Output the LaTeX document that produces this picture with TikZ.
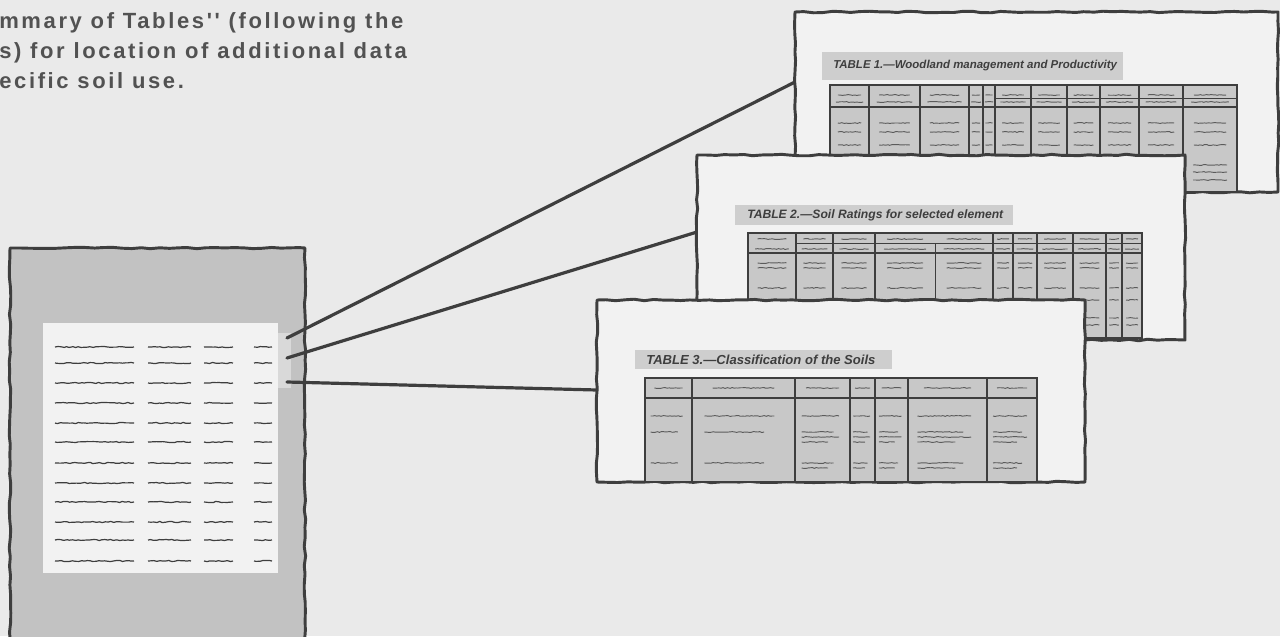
\documentclass[tikz,border=0pt]{standalone}
\usepackage{fontspec}
\setmainfont{Liberation Sans}
\newfontfamily\bodyfont[LetterSpace=12]{Liberation Sans}
\usetikzlibrary{decorations.pathmorphing}
\definecolor{paper}{RGB}{234,234,234}
\definecolor{sheet}{RGB}{242,242,242}
\definecolor{ink}{RGB}{62,62,62}
\definecolor{tgray}{RGB}{200,200,200}
\definecolor{docgray}{RGB}{194,194,194}
\definecolor{textc}{RGB}{82,82,82}
\begin{document}
\pgfmathsetseed{11}
\begin{tikzpicture}[x=0.75pt,y=-0.75pt,
  rough/.style={decorate,decoration={random steps,segment length=7pt,amplitude=0.6pt}},
  sheetline/.style={draw=ink,line width=2.2pt,rough,line join=round},
  link/.style={draw=ink,line width=2.4pt,line cap=round},
  scr/.style={draw=ink,line width=0.9pt,decorate,decoration={random steps,segment length=2.2pt,amplitude=0.45pt}},
  tscr/.style={draw=ink!85,line width=0.7pt,decorate,decoration={random steps,segment length=1.6pt,amplitude=0.35pt}},
  tline/.style={draw=ink,line width=1.1pt},
  band/.style={fill=tgray!85!sheet},
  ttl/.style={font=\fontsize{#1}{10}\selectfont\bfseries\itshape,text=ink,anchor=west,inner sep=0},
  body/.style={font=\bodyfont\fontsize{16.5}{19}\selectfont\bfseries,text=textc,anchor=base west,inner sep=0}
]
\useasboundingbox (0,0) rectangle (1280,636);
\clip (0,0) rectangle (1280,636);
\fill[paper] (0,0) rectangle (1280,636);

% top text
\node[body] (l1) at (-1,28) {mmary of Tables{'}{'} (following the};
\node[body] (l2) at (-1,58) {s) for location of additional data};
\node[body] (l3) at (-1,88) {ecific soil use.};

% left document
\draw[sheetline,fill=docgray] (10,248) -- (305,248) -- (305,660) -- (10,660) -- cycle;
\fill[sheet] (43,323) rectangle (278,573);
\fill[tgray!60!sheet] (278,333) rectangle (291,388);
\foreach \y [count=\i] in {347,363,383,403,423,442,463,483,502,522,540,561}{
  \draw[scr] (55,\y) -- (134,\y);
  \draw[scr] (148,\y) -- (191,\y);
  \draw[scr] (204,\y) -- (233,\y);
  \draw[scr] (254,\y) -- (272,\y);
}

% connector ends
\coordinate (s1) at (287,338);
\coordinate (s2) at (287,358);
\coordinate (s3) at (287,382);
\coordinate (e1) at (795,82);
\coordinate (e2) at (697,232);
\coordinate (e3) at (597,390);
\draw[link] (s1) -- (e1);
\draw[link] (s2) -- (e2);
\draw[link] (s3) -- (e3);

% ---------- document 1 ----------
\draw[sheetline,fill=sheet] (795,12) -- (1278,12) -- (1278,192) -- (795,192) -- cycle;
\fill[band] (822,52) rectangle (1123,80);
\node[ttl=8.6] (t1) at (833,66) {TABLE 1.---Woodland management and Productivity};
\fill[tgray] (830,85) rectangle (1237,192);
\draw[tline] (830,85) rectangle (1237,192);
\draw[tline] (830,107) -- (1237,107);
\draw[tline,line width=0.6pt] (995,98) -- (1237,98);
\foreach \c in {869,920,969,983,995,1031,1067,1100,1139,1183}
  \draw[tline] (\c,85) -- (\c,192);
\foreach \a/\b in {830/869,869/920,920/969,969/983,983/995,995/1031,1031/1067,1067/1100,1100/1139,1139/1183,1183/1237}{
  \foreach \y in {123,132,145}
    \draw[tscr] ({\a+0.2*(\b-\a)},\y) -- ({\b-0.2*(\b-\a)},\y);
  \draw[tscr] ({\a+0.2*(\b-\a)},95) -- ({\b-0.2*(\b-\a)},95);
  \draw[tscr] ({\a+0.15*(\b-\a)},102) -- ({\b-0.15*(\b-\a)},102);
}
\foreach \y in {165,172,180}
  \draw[tscr] (1193,\y) -- (1227,\y);

% ---------- document 2 ----------
\draw[sheetline,fill=sheet] (697,155) -- (1185,155) -- (1185,340) -- (697,340) -- cycle;
\fill[band] (735,205) rectangle (1013,225);
\node[ttl=9.1] (t2) at (747,215) {TABLE 2.---Soil Ratings for selected element};
\fill[tgray] (748,233) rectangle (1142,338);
\draw[tline] (748,233) rectangle (1142,338);
\draw[tline] (748,253) -- (1142,253);
\draw[tline,line width=0.6pt] (796,243) -- (1142,243);
\foreach \c in {796,833,875,993,1013,1037,1073,1106,1122}
  \draw[tline] (\c,233) -- (\c,338);
\foreach \c in {935}
  \draw[tline,line width=0.6pt] (\c,243) -- (\c,338);
\foreach \a/\b in {748/796,796/833,833/875,875/935,935/993,993/1013,1013/1037,1037/1073,1073/1106,1106/1122,1122/1142}{
  \foreach \y in {263,268,288}
    \draw[tscr] ({\a+0.2*(\b-\a)},\y) -- ({\b-0.2*(\b-\a)},\y);
  \draw[tscr] ({\a+0.2*(\b-\a)},239) -- ({\b-0.2*(\b-\a)},239);
  \draw[tscr] ({\a+0.15*(\b-\a)},249) -- ({\b-0.15*(\b-\a)},249);
}
\foreach \a/\b in {1073/1106,1106/1122,1122/1142}
  \foreach \y in {300,318,325}
    \draw[tscr] ({\a+0.2*(\b-\a)},\y) -- ({\b-0.2*(\b-\a)},\y);

% ---------- document 3 ----------
\draw[sheetline,fill=sheet] (597,300) -- (1085,300) -- (1085,482) -- (597,482) -- cycle;
\fill[band] (635,350) rectangle (892,369);
\node[ttl=9.8] (t3) at (646,359.5) {TABLE 3.---Classification of the Soils};
\fill[tgray] (645,378) rectangle (1037,482);
\draw[tline] (645,378) rectangle (1037,482);
\draw[tline] (645,398) -- (1037,398);
\foreach \c in {692,795,850,875,908,987}
  \draw[tline] (\c,378) -- (\c,482);
\foreach \a/\b in {645/692,692/795,795/850,850/875,875/908,908/987,987/1037}{
  \draw[tscr] ({\a+0.2*(\b-\a)},388) -- ({\b-0.2*(\b-\a)},388);
  \draw[tscr] ({\a+0.12*(\b-\a)},416) -- ({\b-0.2*(\b-\a)},416);
  \draw[tscr] ({\a+0.12*(\b-\a)},432) -- ({\b-0.3*(\b-\a)},432);
  \draw[tscr] ({\a+0.12*(\b-\a)},463) -- ({\b-0.3*(\b-\a)},463);
}
\foreach \a/\b in {795/850,850/875,875/908,908/987,987/1037}{
  \draw[tscr] ({\a+0.12*(\b-\a)},437) -- ({\b-0.2*(\b-\a)},437);
  \draw[tscr] ({\a+0.12*(\b-\a)},442) -- ({\b-0.4*(\b-\a)},442);
  \draw[tscr] ({\a+0.12*(\b-\a)},468) -- ({\b-0.4*(\b-\a)},468);
}
\end{tikzpicture}
\end{document}
